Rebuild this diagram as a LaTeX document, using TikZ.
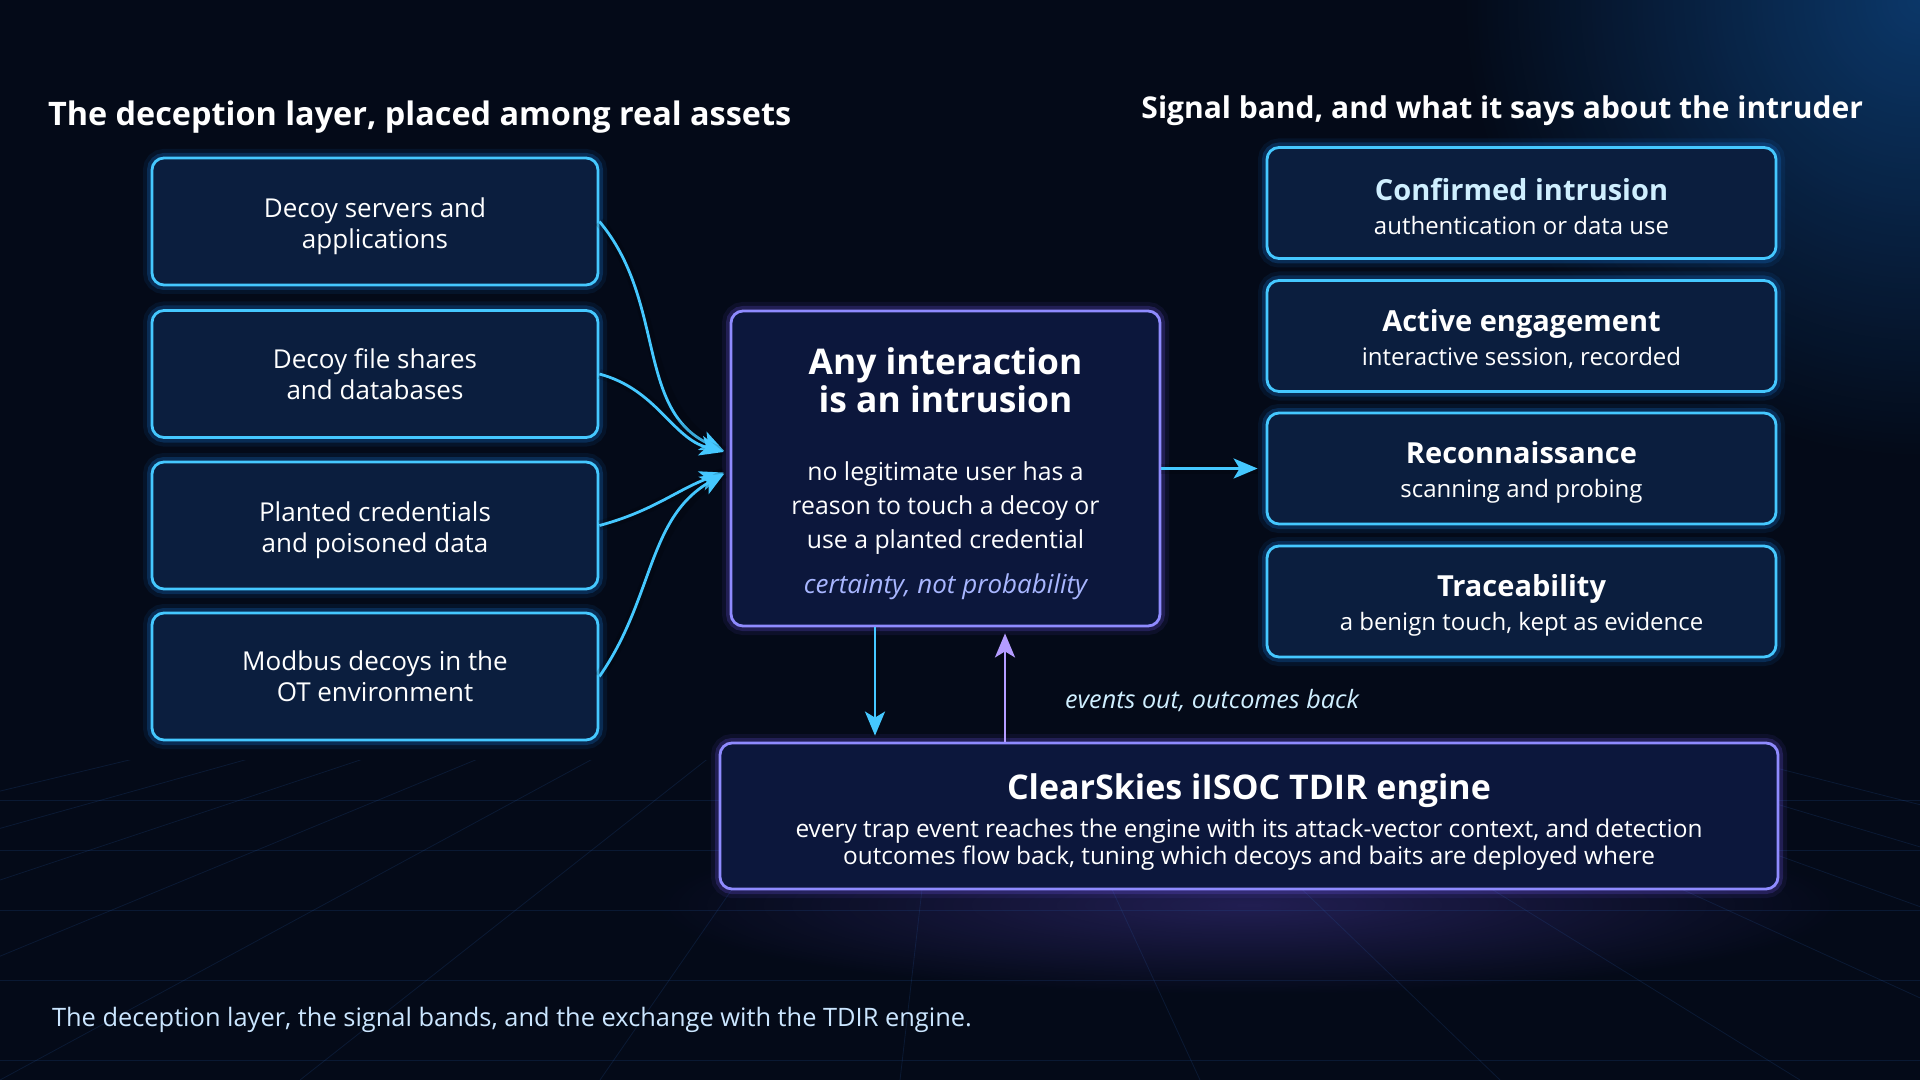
\documentclass[tikz,border=0pt]{standalone}
\usepackage{fontspec}
\setmainfont{Open Sans}
\usetikzlibrary{arrows.meta,calc,fadings}

\definecolor{bgnight}{HTML}{040A18}
\definecolor{boxfill}{HTML}{0B1E3E}
\definecolor{corefill}{HTML}{0C173C}
\definecolor{cyanedge}{HTML}{45C8FF}
\definecolor{glowblue}{HTML}{1A8CFF}
\definecolor{violetedge}{HTML}{8F8BFF}
\definecolor{violetglow}{HTML}{7A5CFF}
\definecolor{backline}{HTML}{B49CFF}
\definecolor{headcyan}{HTML}{CFEFFF}
\definecolor{lavender}{HTML}{A8B6FF}
\definecolor{captionblue}{HTML}{CBE6FF}
\definecolor{gridblue}{HTML}{2A5FB0}

\tikzfading[name=softglow, inner color=transparent!0, outer color=transparent!100]

\tikzset{
  glow/.style={preaction={draw=#1, line width=9pt, opacity=0.08},
               preaction={draw=#1, line width=5pt, opacity=0.2}},
  panel/.style={rounded corners=6pt, align=center, text=white, line width=1.4pt},
  decoy/.style={panel, draw=cyanedge, fill=boxfill, glow=glowblue,
                minimum width=223pt, minimum height=63.5pt,
                font=\fontsize{13}{15.5}\selectfont},
  band/.style={panel, draw=cyanedge, fill=boxfill, glow=glowblue,
               minimum width=254.5pt, minimum height=55.5pt,
               font=\fontsize{12}{15}\selectfont},
  core/.style={panel, draw=violetedge, fill=corefill, glow=violetglow},
  heading/.style={text=white, font=\fontsize{#1}{18}\selectfont\bfseries},
  note/.style={text=headcyan, font=\fontsize{12.6}{15}\selectfont\itshape},
  flow/.style={line width=1.4pt, -{Stealth[length=12pt, width=10pt, inset=3pt]},
               preaction={draw, -, line width=5pt, opacity=0.15}},
  gridline/.style={gridblue, line width=0.4pt, opacity=0.18}
}
\newcommand{\bandtitle}[1]{{\fontsize{14.5}{17}\selectfont\bfseries\rule{0pt}{14.5pt}#1}}
\newcommand{\claimhead}[1]{{\fontsize{17.7}{19.6}\selectfont\bfseries #1}}

\begin{document}
\begin{tikzpicture}[x=0.5pt, y=-0.5pt]
        \useasboundingbox (0,0) rectangle (1920,1080);

        % Background: night sky, glow and floor grid
        \fill[bgnight] (0,0) rectangle (1920,1080);
        \fill[glowblue, path fading=softglow, opacity=0.35] (1920,0) circle (230pt);
        \fill[violetglow, path fading=softglow, opacity=0.25] (1249,905) ellipse (300pt and 45pt);
        \begin{scope}
          \clip (0,760) rectangle (1920,1080);
          \foreach \gx in {-1200,-900,...,3100}
            \draw[gridline] (960,560) -- (\gx,1080);
          \foreach \gy in {800,850,910,980,1060}
            \draw[gridline] (0,\gy) -- (1920,\gy);
        \end{scope}

        % Left column: the deception layer
        \node[heading=16.2, anchor=west] (lefttitle) at (41,117) {The deception layer, placed among real assets};
        \node[decoy] (servers) at (375,221.5) {\rule{0pt}{15pt}Decoy servers and\\applications};
        \node[decoy] (shares) at (375,374) {Decoy file shares\\and databases};
        \node[decoy] (creds) at (375,525.5) {\rule{0pt}{15pt}Planted credentials\\and poisoned data};
        \node[decoy] (modbus) at (375,676.5) {Modbus decoys in the\\OT environment};

        % Middle: any interaction is an intrusion
        \node[core, minimum width=214.5pt, minimum height=157.5pt,
              font=\fontsize{12.4}{16.8}\selectfont] (claim) at (945.5,468.5)
          {\claimhead{\rule{0pt}{19pt}Any interaction}\\\claimhead{is an intrusion}\\[17.5pt]
           no legitimate user has a\\reason to touch a decoy or\\use a planted credential\\[6pt]
           {\color{lavender}\fontsize{13}{16}\selectfont\itshape certainty, not probability}};

        % Right column: signal bands
        \node[heading=15, anchor=east] (righttitle) at (1870,111) {Signal band, and what it says about the intruder};
        \node[band] (confirmed) at (1521.5,203) {{\color{headcyan}\bandtitle{Confirmed intrusion}}\\[2pt]authentication or data use};
        \node[band] (engaged) at (1521.5,336) {\bandtitle{Active engagement}\\[2pt]interactive session, recorded};
        \node[band] (recon) at (1521.5,468.5) {\bandtitle{Reconnaissance}\\[2pt]scanning and probing};
        \node[band] (trace) at (1521.5,601.5) {\bandtitle{Traceability}\\[2pt]a benign touch, kept as evidence};

        % Bottom: the TDIR engine
        \node[core, minimum width=529pt, minimum height=73pt,
              font=\fontsize{12.2}{13.5}\selectfont] (engine) at (1249,816)
          {{\fontsize{17}{20}\selectfont\bfseries\rule{0pt}{18.5pt}ClearSkies iISOC TDIR engine}\\[5.5pt]
           every trap event reaches the engine with its attack-vector context, and detection\\
           outcomes flow back, tuning which decoys and baits are deployed where};

        % Decoys feed the claim
        \draw[flow, cyanedge, shorten >=3pt] (servers.east) to[out=-50, in=155] ([yshift=7.5pt]claim.west);
        \draw[flow, cyanedge, shorten >=3pt] (shares.east) to[out=-15, in=165] ([yshift=7.5pt]claim.west);
        \draw[flow, cyanedge, shorten >=3pt] (creds.east) to[out=15, in=200] ([yshift=-1pt]claim.west);
        \draw[flow, cyanedge, shorten >=3pt] (modbus.east) to[out=55, in=210] ([yshift=-1pt]claim.west);

        % Claim to the signal bands
        \draw[flow, cyanedge, shorten >=4pt] (claim.east) -- (recon.west);

        % Exchange with the engine
        \coordinate (outx) at (875,0);
        \coordinate (backx) at (1005,0);
        \draw[flow, cyanedge, shorten >=3pt] (claim.south -| outx) -- (engine.north -| outx);
        \draw[flow, backline, shorten >=3pt] (engine.north -| backx) -- (claim.south -| backx);
        \node[note] (exchange) at (1212,701) {events out, outcomes back};

        % Caption
        \node[anchor=west, text=captionblue, font=\fontsize{12.7}{15}\selectfont] (caption) at (45,1020)
          {The deception layer, the signal bands, and the exchange with the TDIR engine.};
\end{tikzpicture}
\end{document}
